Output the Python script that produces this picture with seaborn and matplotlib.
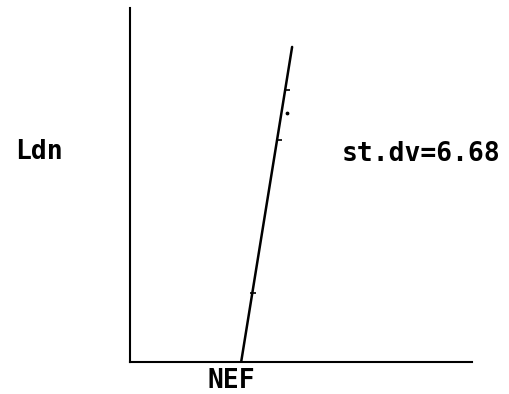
import pandas as pd
import seaborn as sns
import matplotlib.pyplot as plt

# Data (arbitrary units, no tick labels)
nef_line = [32.5, 47.4]
ldn_line = [0.0, 89.0]

nef_marks = [45.9, 43.6, 36.0]
ldn_marks = [76.8, 62.7, 19.5]

nef_dot = [45.9]
ldn_dot = [70.3]

sns.set_style('white')
plt.rcParams['font.family'] = ['DejaVu Sans Mono']

fig = plt.figure(figsize=(5.1, 3.94), dpi=100)
ax = fig.add_axes([130 / 510, 32 / 394, 342 / 510, 354 / 394])

df = pd.DataFrame({'NEF': nef_line, 'Ldn': ldn_line})
sns.lineplot(data=df, x='NEF', y='Ldn', ax=ax, color='black', linewidth=1.8)

ax.scatter(nef_marks, ldn_marks, marker='_', s=25, color='black', linewidths=1.2)
ax.scatter(nef_dot, ldn_dot, marker='o', s=3, color='black')

ax.set_xlim(0, 100)
ax.set_ylim(0, 100)
ax.set_xticks([])
ax.set_yticks([])
ax.set_xlabel('')
ax.set_ylabel('')
sns.despine(ax=ax)
for s in ['left', 'bottom']:
    ax.spines[s].set_color('black')
    ax.spines[s].set_linewidth(1.5)

# Labels
txt = dict(fontsize=19, fontweight='bold', color='black')
fig.text(15 / 510, 1 - 159 / 394, 'Ldn', ha='left', va='baseline', **txt)
fig.text(342 / 510, 1 - 161 / 394, 'st.dv=6.68', ha='left', va='baseline', **txt)
fig.text(208 / 510, 1 - 388 / 394, 'NEF', ha='left', va='baseline', **txt)

fig.savefig('out.png', dpi=100)
